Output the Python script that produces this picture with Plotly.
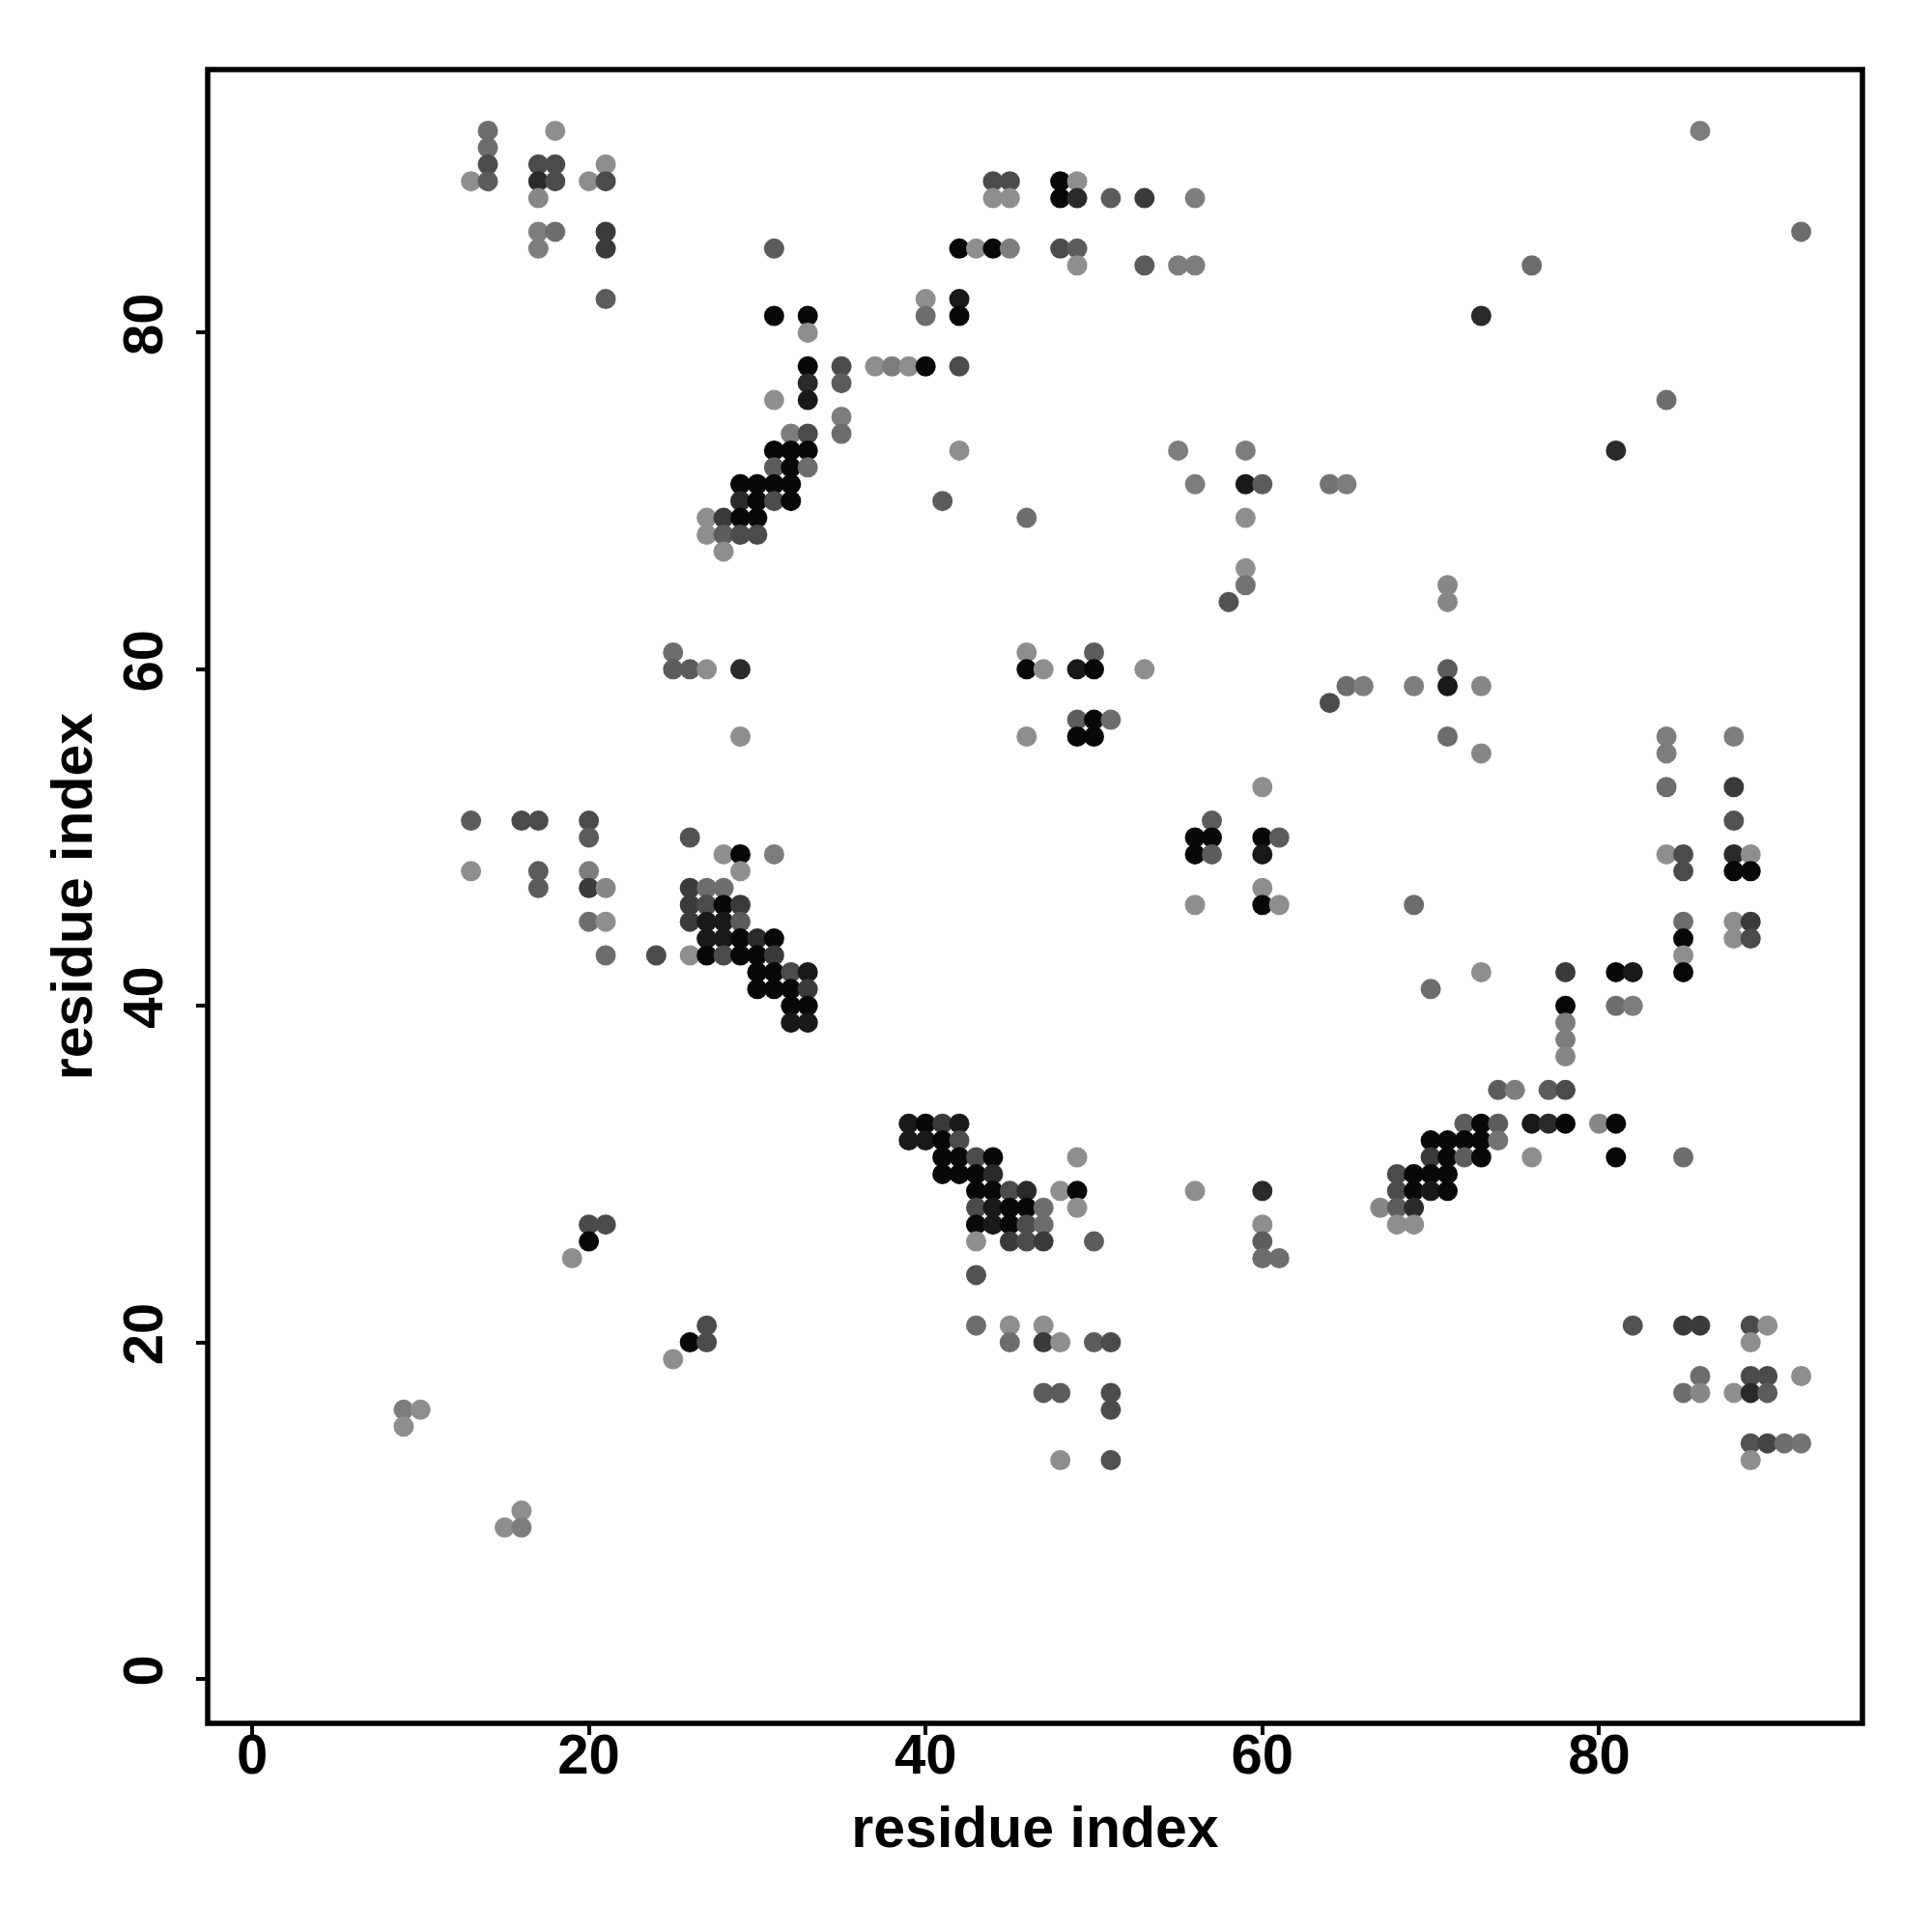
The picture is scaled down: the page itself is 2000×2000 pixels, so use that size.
import plotly.graph_objects as go

# residue i (x), residue j (y), contact score (1 = weak/light ... 5 = strong/black)
contact_x = [
    14, 18, 86,
    14,
    14, 17, 18, 21,
    13, 14, 17, 18, 20, 21, 44, 45, 48, 49,
    17, 44, 45, 48, 49, 51, 53, 56,
    17, 18, 21, 92,
    17, 21, 31, 42, 43, 44, 45, 48, 49,
    49, 53, 55, 56, 76,
    21, 40, 42,
    31, 33, 40, 42, 73,
    33,
    33, 35, 37, 38, 39, 40, 42,
    33, 35,
    31, 33, 84,
    35,
    32, 33, 35,
    31, 32, 33, 42, 55, 59, 81,
    31, 32, 33,
    29, 30, 31, 32, 56, 59, 60, 64, 65,
    29, 30, 31, 32, 41,
    27, 28, 29, 30, 46, 59,
    27, 28, 29, 30,
    28,
    59,
    59, 71,
    58, 71,
    25, 46, 50,
    25, 26, 27, 29, 46, 47, 49, 50, 53, 71,
    65, 66, 69, 71, 73,
    64,
    49, 50, 51,
    29, 46, 49, 50, 71, 84, 88,
    73, 84,
    60, 84, 88,
    13, 16, 17, 20, 57, 88,
    20, 26, 56, 57, 60, 61,
    28, 29, 31, 56, 57, 60, 84, 85, 88, 89,
    13, 17, 20, 29, 85, 88, 89,
    17, 20, 21, 26, 27, 28, 60,
    26, 27, 28, 29, 56, 60, 61, 69,
    20, 21, 26, 27, 28, 29, 85, 88, 89,
    27, 28, 29, 30, 31, 85, 88, 89,
    21, 24, 26, 27, 28, 29, 30, 31, 85,
    30, 31, 32, 33, 73, 78, 81, 82, 85,
    30, 31, 32, 33, 70,
    32, 33, 78, 81, 82,
    32, 33, 78,
    78,
    78,
    74, 75, 77, 78,
    39, 40, 41, 42, 72, 73, 74, 76, 77, 78, 80, 81,
    39, 40, 41, 42, 70, 71, 72, 73, 74,
    41, 42, 43, 44, 49, 70, 71, 72, 73, 76, 81, 85,
    41, 42, 43, 44, 68, 69, 70, 71,
    43, 44, 45, 46, 48, 49, 56, 60, 68, 69, 70, 71,
    43, 44, 45, 46, 47, 49, 67, 68, 69,
    20, 21, 43, 44, 45, 46, 47, 60, 68, 69,
    20, 43, 45, 46, 47, 50, 60,
    19, 60, 61,
    43,
    27, 43, 45, 47, 82, 85, 86, 89, 90,
    26, 27, 45, 47, 48, 50, 51, 89,
    25,
    86, 89, 90, 92,
    47, 48, 51, 85, 86, 88, 89, 90,
    9, 10, 51,
    9,
    89, 90, 91, 92,
    48, 51, 89,
    16,
    15, 16,
]

contact_y = [
    92, 92, 92,
    91,
    90, 90, 90, 90,
    89, 89, 89, 89, 89, 89, 89, 89, 89, 89,
    88, 88, 88, 88, 88, 88, 88, 88,
    86, 86, 86, 86,
    85, 85, 85, 85, 85, 85, 85, 85, 85,
    84, 84, 84, 84, 84,
    82, 82, 82,
    81, 81, 81, 81, 81,
    80,
    78, 78, 78, 78, 78, 78, 78,
    77, 77,
    76, 76, 76,
    75,
    74, 74, 74,
    73, 73, 73, 73, 73, 73, 73,
    72, 72, 72,
    71, 71, 71, 71, 71, 71, 71, 71, 71,
    70, 70, 70, 70, 70,
    69, 69, 69, 69, 69, 69,
    68, 68, 68, 68,
    67,
    66,
    65, 65,
    64, 64,
    61, 61, 61,
    60, 60, 60, 60, 60, 60, 60, 60, 60, 60,
    59, 59, 59, 59, 59,
    58,
    57, 57, 57,
    56, 56, 56, 56, 56, 56, 56,
    55, 55,
    53, 53, 53,
    51, 51, 51, 51, 51, 51,
    50, 50, 50, 50, 50, 50,
    49, 49, 49, 49, 49, 49, 49, 49, 49, 49,
    48, 48, 48, 48, 48, 48, 48,
    47, 47, 47, 47, 47, 47, 47,
    46, 46, 46, 46, 46, 46, 46, 46,
    45, 45, 45, 45, 45, 45, 45, 45, 45,
    44, 44, 44, 44, 44, 44, 44, 44,
    43, 43, 43, 43, 43, 43, 43, 43, 43,
    42, 42, 42, 42, 42, 42, 42, 42, 42,
    41, 41, 41, 41, 41,
    40, 40, 40, 40, 40,
    39, 39, 39,
    38,
    37,
    35, 35, 35, 35,
    33, 33, 33, 33, 33, 33, 33, 33, 33, 33, 33, 33,
    32, 32, 32, 32, 32, 32, 32, 32, 32,
    31, 31, 31, 31, 31, 31, 31, 31, 31, 31, 31, 31,
    30, 30, 30, 30, 30, 30, 30, 30,
    29, 29, 29, 29, 29, 29, 29, 29, 29, 29, 29, 29,
    28, 28, 28, 28, 28, 28, 28, 28, 28,
    27, 27, 27, 27, 27, 27, 27, 27, 27, 27,
    26, 26, 26, 26, 26, 26, 26,
    25, 25, 25,
    24,
    21, 21, 21, 21, 21, 21, 21, 21, 21,
    20, 20, 20, 20, 20, 20, 20, 20,
    19,
    18, 18, 18, 18,
    17, 17, 17, 17, 17, 17, 17, 17,
    16, 16, 16,
    15,
    14, 14, 14, 14,
    13, 13, 13,
    10,
    9, 9,
]

contact_score = [
    2, 1, 1.5,
    2,
    3, 3, 3, 1,
    1, 2.5, 4, 3, 1, 3, 3, 3, 5, 1,
    1.2, 1, 1, 5, 4, 2.5, 3.5, 1.5,
    1.5, 2, 3.5, 2,
    1.5, 3.5, 2.5, 5, 1, 5, 1.5, 3, 2.5,
    1, 2.5, 1.5, 1.5, 2,
    2.5, 1, 4.5,
    5, 5, 2, 5, 4,
    1,
    5, 3, 1, 1.5, 1, 5, 3,
    4, 2.5,
    1, 4.5, 2,
    1.5,
    1.5, 3, 2,
    5, 5, 5, 1, 1.5, 1.5, 4,
    2.5, 5, 2,
    5, 5, 5, 5, 1.5, 4.5, 2.5, 1.8, 1.5,
    4, 5, 3, 5, 2.5,
    1, 3.5, 5, 5, 2, 1,
    1, 2.5, 3, 3,
    1,
    1,
    1.8, 1.2,
    2.8, 1.2,
    2, 1, 2.5,
    2.5, 2.5, 1, 4, 5, 1, 4.5, 5, 1, 2.5,
    2, 1.5, 1.5, 4.5, 1.2,
    3,
    2.5, 5, 2,
    1, 1, 5, 5, 2, 1.5, 1.5,
    1.2, 1.5,
    1, 2, 3.5,
    2.5, 3, 3, 3, 2.5, 2.8,
    2.5, 2.8, 5, 5, 5, 2.5,
    1, 5, 1.5, 5, 2.5, 4.5, 1, 3, 4, 1,
    1, 2.5, 1.5, 1, 3, 5, 5,
    2.5, 3.5, 1.2, 3.5, 2, 2, 1,
    3.5, 3, 5, 3.5, 1, 5, 1, 2,
    2, 1, 3.5, 4.5, 4.5, 2.5, 2, 1, 3.5,
    4.5, 4.5, 5, 4, 5, 5, 1, 3,
    2, 3, 1, 5, 3, 5, 5, 3.5, 1,
    5, 5, 3, 4.5, 1, 3.5, 5, 4.5, 5,
    5, 5, 5, 3.5, 2,
    5, 5, 5, 2, 1.5,
    4.5, 4.5, 1.5,
    1.5,
    1.2,
    2.5, 1.5, 2.5, 3,
    4.5, 5, 3.5, 4.5, 2.5, 5, 2.5, 4.5, 4, 5, 1.2, 5,
    4.5, 4.5, 5, 3, 5, 5, 5, 5, 1.8,
    5, 5, 3, 5, 1, 3.5, 5, 2.5, 5, 1, 5, 2,
    5, 5, 5, 4, 3, 5, 5, 5,
    5, 5, 3, 4, 1, 5, 1, 4, 3, 5, 4.5, 5,
    3, 4.5, 5, 5, 2, 1, 1.2, 2.5, 4,
    3, 3, 5, 4.5, 5, 3, 2, 1, 1, 1,
    5, 1, 3.5, 3, 3.5, 2.5, 2.5,
    1, 2, 2,
    2.8,
    3, 2, 1, 1, 2.8, 3.5, 3.5, 3, 1,
    5, 3, 2, 3.5, 1, 2.5, 3, 1,
    1,
    2, 3, 3, 1,
    2.5, 2.5, 3, 2, 1.2, 1, 4, 2.5,
    1.5, 1, 3,
    1,
    2.8, 3.2, 2, 1.8,
    1, 2.8, 1,
    1,
    1, 1.5,
]

tick_values = [0, 20, 40, 60, 80]
axis_title = "residue index"

assert len(contact_x) == len(contact_y) == len(contact_score)

FONT = "Liberation Sans"

fig = go.Figure(
    go.Scatter(
        x=contact_x,
        y=contact_y,
        mode="markers",
        marker=dict(
            size=21,
            color=contact_score,
            cmin=1,
            cmax=5,
            colorscale=[[0, "rgb(142,142,142)"], [1, "rgb(8,8,8)"]],
            line=dict(width=0),
            showscale=False,
        ),
        hoverinfo="x+y",
    )
)

axis_common = dict(
    range=[-2.64, 95.64],
    tickvals=tick_values,
    ticks="outside",
    ticklen=11,
    tickwidth=4,
    tickcolor="black",
    showgrid=False,
    zeroline=False,
    showline=False,
    tickfont=dict(family=FONT, size=58, color="black", weight="bold"),
    title=dict(text=axis_title, font=dict(family=FONT, size=59, color="black", weight="bold")),
)

fig.update_layout(
    width=2000,
    height=2000,
    plot_bgcolor="white",
    paper_bgcolor="white",
    showlegend=False,
    margin=dict(l=207, r=80, t=64, b=224, autoexpand=False),
    xaxis=dict(**axis_common, ticklabelstandoff=-30),
    yaxis=dict(**axis_common, tickangle=-90, ticklabelstandoff=12),
    shapes=[
        dict(type="rect", xref="paper", yref="paper", x0=0, y0=0, x1=1, y1=1,
             line=dict(color="black", width=5.5), fillcolor="rgba(0,0,0,0)", layer="above")
    ],
)
fig.update_xaxes(title_standoff=24)
fig.update_yaxes(title_standoff=0)

fig.write_html("out.html")
